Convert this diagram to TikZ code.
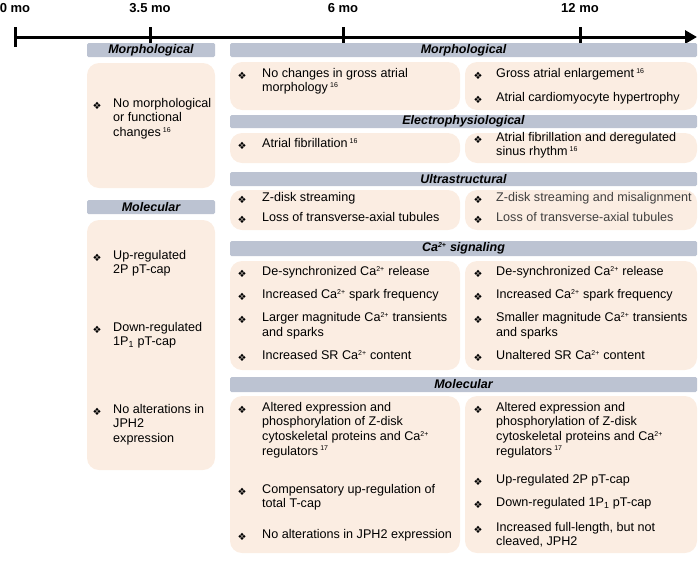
\documentclass[tikz,border=0pt]{standalone}
\usepackage{fontspec}
\setmainfont{Liberation Sans}
\newfontfamily\dejavu{DejaVu Sans}
\usetikzlibrary{arrows.meta}
\definecolor{boxc}{HTML}{FBEDE2}
\definecolor{headc}{HTML}{BCC3D2}
\newcommand{\ca}{Ca\textsuperscript{\scriptsize 2+}}
\newcommand{\rf}[1]{\,\textsuperscript{\scriptsize #1}}
\tikzset{
 box/.style={fill=boxc,draw=none,rounded corners=12pt},
 head/.style={fill=headc,draw=none,rounded corners=1.5pt},
 htxt/.style={font=\fontsize{12.5}{14}\selectfont\bfseries\itshape},
 itxt/.style={anchor=north west,align=left,inner sep=0pt,font=\fontsize{12.6}{14.6}\selectfont},
 bul/.style={inner sep=0pt,font=\dejavu\fontsize{10}{11}\selectfont},
 tl/.style={font=\fontsize{13}{15}\selectfont\bfseries}
}
\newcommand{\itm}[4]{\node[bul] at (#1,#3) {❖};\node[itxt] at (#2,#3-8) {#4};}
\newcommand{\hd}[5]{\fill[head] (#1,#2) rectangle (#3,#4); \node[htxt] at ({(#1+#3)/2},{(#2+#4)/2}) {#5};}
\begin{document}
\begin{tikzpicture}[x=1pt,y=-1pt]
\useasboundingbox (0,0) rectangle (700,563);
% timeline
\coordinate (t0) at (15,37); \coordinate (tend) at (697,37);
\draw[line width=3pt,-{Triangle[length=12pt,width=13pt]}] (t0) -- (tend);
\foreach \x/\l in {15/0 mo,150/3.5 mo,343/6 mo,580/12 mo}{
 \draw[line width=3pt] (\x,27) -- (\x,47);
 \node[tl] at (\x,8) {\l};}
% left column
\hd{87}{43}{215}{57}{Morphological}
\fill[box] (87,63) rectangle (215,188);
\itm{97}{113}{106}{No morphological\\or functional\\changes\rf{16}}
\hd{87}{200}{215}{214}{Molecular}
\fill[box] (87,220) rectangle (215,470);
\itm{97}{113}{258}{Up-regulated\\2P pT-cap}
\itm{97}{113}{330}{Down-regulated\\1P\textsubscript{1} pT-cap}
\itm{97}{113}{412}{No alterations in\\JPH2\\expression}
% right: morphological
\hd{230}{43}{697}{57}{Morphological}
\fill[box] (230,62) rectangle (460,110);
\fill[box] (465,62) rectangle (697,110);
\itm{242}{262}{76}{No changes in gross atrial\\morphology\rf{16}}
\itm{478}{496}{76}{Gross atrial enlargement\rf{16}}
\itm{478}{496}{100}{Atrial cardiomyocyte hypertrophy}
% electro
\hd{230}{115}{697}{128}{Electrophysiological}
\fill[box] (230,133) rectangle (460,163);
\fill[box] (465,133) rectangle (697,163);
\itm{242}{262}{146}{Atrial fibrillation\rf{16}}
\itm{478}{496}{140}{Atrial fibrillation and deregulated\\sinus rhythm\rf{16}}
% ultra
\hd{230}{172}{697}{186}{Ultrastructural}
\fill[box] (230,190) rectangle (460,230);
\fill[box] (465,190) rectangle (697,230);
\itm{242}{262}{200}{Z-disk streaming}
\itm{242}{262}{220}{Loss of transverse-axial tubules}
\itm{478}{496}{200}{\color{black!75}Z-disk streaming and misalignment}
\itm{478}{496}{220}{\color{black!75}Loss of transverse-axial tubules}
% Ca
\hd{230}{241}{697}{256}{\ca\ signaling}
\fill[box] (230,261) rectangle (460,370);
\fill[box] (465,261) rectangle (697,370);
\itm{242}{262}{274}{De-synchronized \ca\ release}
\itm{242}{262}{297}{Increased \ca\ spark frequency}
\itm{242}{262}{320}{Larger magnitude \ca\ transients\\and sparks}
\itm{242}{262}{358}{Increased SR \ca\ content}
\itm{478}{496}{274}{De-synchronized \ca\ release}
\itm{478}{496}{297}{Increased \ca\ spark frequency}
\itm{478}{496}{320}{Smaller magnitude \ca\ transients\\and sparks}
\itm{478}{496}{358}{Unaltered SR \ca\ content}
% molecular
\hd{230}{377}{697}{392}{Molecular}
\fill[box] (230,396) rectangle (460,553);
\fill[box] (465,396) rectangle (697,553);
\itm{242}{262}{410}{Altered expression and\\phosphorylation of Z-disk\\cytoskeletal proteins and \ca{}\\regulators\rf{17}}
\itm{242}{262}{492}{Compensatory up-regulation of\\total T-cap}
\itm{242}{262}{537}{No alterations in JPH2 expression}
\itm{478}{496}{410}{Altered expression and\\phosphorylation of Z-disk\\cytoskeletal proteins and \ca{}\\regulators\rf{17}}
\itm{478}{496}{482}{Up-regulated 2P pT-cap}
\itm{478}{496}{505}{Down-regulated 1P\textsubscript{1} pT-cap}
\itm{478}{496}{530}{Increased full-length, but not\\cleaved, JPH2}
\end{tikzpicture}
\end{document}
